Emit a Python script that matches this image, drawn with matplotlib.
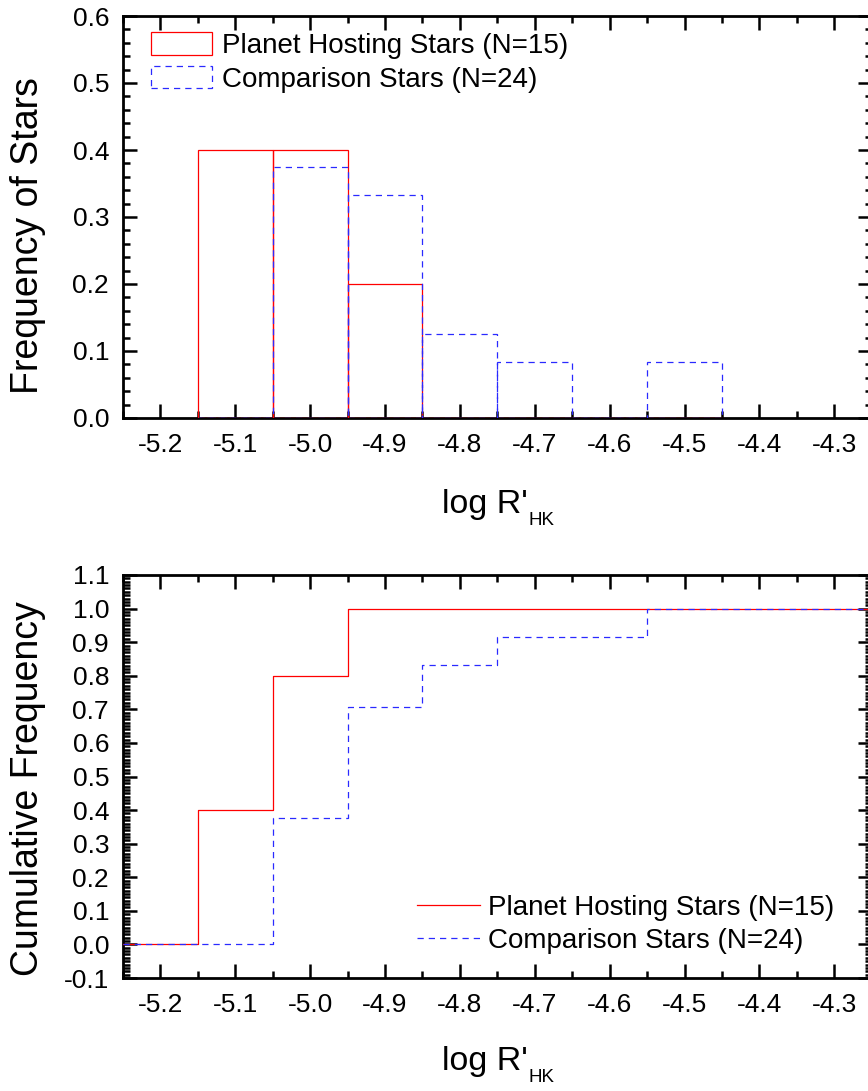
import numpy as np
import matplotlib
matplotlib.use("Agg")
import matplotlib.pyplot as plt
from matplotlib.ticker import MultipleLocator, FormatStrFormatter
from matplotlib.patches import Rectangle
from matplotlib.lines import Line2D

plt.rcParams['font.family'] = ['Liberation Sans', 'DejaVu Sans']
plt.rcParams['axes.unicode_minus'] = False

# ---- data ----
bin_left_edges = [-5.15, -5.05, -4.95, -4.85, -4.75, -4.65, -4.55]
bin_width = 0.1
planet_counts = [6, 6, 3, 0, 0, 0, 0]
comparison_counts = [0, 9, 8, 3, 2, 0, 2]
planet_N = 15
comparison_N = 24
planet_label = "Planet Hosting Stars (N=15)"
comparison_label = "Comparison Stars (N=24)"
x_limits = (-5.25, -4.25)

planet_freq = np.array(planet_counts) / planet_N
comp_freq = np.array(comparison_counts) / comparison_N

W, H = 868, 1091
fig = plt.figure(figsize=(W / 100, H / 100), dpi=100)

def fr(px_left, px_top, px_right, px_bottom):
    return [px_left / W, 1 - px_bottom / H, (px_right - px_left) / W, (px_bottom - px_top) / H]

ax1 = fig.add_axes(fr(123, 16, 871.7, 418))
ax2 = fig.add_axes(fr(123, 575, 871.7, 978))

RED = '#ff0000'
BLUE = '#2a2aff'
DASH = (0, (5.0, 4.0))
LW = 0.9

# Top: histogram outlines
ax1.bar(bin_left_edges, planet_freq, width=bin_width, align='edge',
        fill=False, edgecolor=RED, linewidth=LW, zorder=3)
ax1.bar(bin_left_edges, comp_freq, width=bin_width, align='edge',
        fill=False, edgecolor=BLUE, linewidth=LW, linestyle=DASH, zorder=4)

# Bottom: cumulative step
xs = [x_limits[0]] + list(bin_left_edges) + [x_limits[1]]
pc = np.cumsum(planet_freq)
cc = np.cumsum(comp_freq)
ys_p = [0] + list(pc) + [pc[-1]]
ys_c = [0] + list(cc) + [cc[-1]]
ax2.step(xs, ys_p, where='post', color=RED, linewidth=LW, zorder=3)
ax2.step(xs, ys_c, where='post', color=BLUE, linewidth=LW, linestyle=DASH, zorder=4)

for ax in (ax1, ax2):
    ax.set_xlim(*x_limits)
    ax.xaxis.set_major_locator(MultipleLocator(0.1))
    ax.xaxis.set_minor_locator(MultipleLocator(0.05))
    ax.xaxis.set_major_formatter(FormatStrFormatter('%.1f'))
    ax.yaxis.set_major_formatter(FormatStrFormatter('%.1f'))
    ax.tick_params(which='both', direction='in', top=True, right=True, width=1.8)
    ax.tick_params(which='major', length=10)
    ax.tick_params(which='minor', length=5)
    ax.tick_params(axis='x', which='major', pad=10.5, labelsize=19)
    ax.tick_params(axis='y', which='major', pad=10, labelsize=19)
    for s in ax.spines.values():
        s.set_linewidth(2.0)

ax1.set_ylim(0, 0.6)
ax1.yaxis.set_major_locator(MultipleLocator(0.1))
ax1.yaxis.set_minor_locator(MultipleLocator(0.02))
ax2.set_ylim(-0.1, 1.1)
ax2.yaxis.set_major_locator(MultipleLocator(0.1))
ax2.yaxis.set_minor_locator(MultipleLocator(0.01))

ax1.set_ylabel("Frequency of Stars", fontsize=27)
ax2.set_ylabel("Cumulative Frequency", fontsize=27)
ax1.yaxis.set_label_coords(-0.103, 0.455)
ax2.yaxis.set_label_coords(-0.103, 0.47)

# x labels: "log R'" with small subscript HK
for base_y in (513, 1070):
    t = fig.text(442 / W, 1 - base_y / H, "log R'", fontsize=24.5, ha='left', va='baseline')
    fig.canvas.draw()
    bb = t.get_window_extent()
    fig.text((bb.x1 + 1) / W, 1 - (base_y + 12) / H, "HK", fontsize=13.5, ha='left', va='baseline')

# Legends
h1 = [Rectangle((0, 0), 1, 1, fill=False, edgecolor=RED, linewidth=LW),
      Rectangle((0, 0), 1, 1, fill=False, edgecolor=BLUE, linewidth=LW, linestyle=DASH)]
leg1 = ax1.legend(h1, [planet_label, comparison_label], loc='center left',
                  bbox_to_anchor=(151 / W, 1 - 62.5 / H), bbox_transform=fig.transFigure,
                  frameon=False, fontsize=20, handlelength=2.2, handleheight=0.86,
                  handletextpad=0.36, labelspacing=0.25, borderpad=0, borderaxespad=0)

h2 = [Line2D([0], [0], color=RED, linewidth=LW),
      Line2D([0], [0], color=BLUE, linewidth=LW, linestyle=DASH)]
leg2 = ax2.legend(h2, [planet_label, comparison_label], loc='center left',
                  bbox_to_anchor=(417 / W, 1 - 924.5 / H), bbox_transform=fig.transFigure,
                  frameon=False, fontsize=20, handlelength=2.27,
                  handletextpad=0.29, labelspacing=0.25, borderpad=0, borderaxespad=0)

fig.savefig("out.png", dpi=100)
